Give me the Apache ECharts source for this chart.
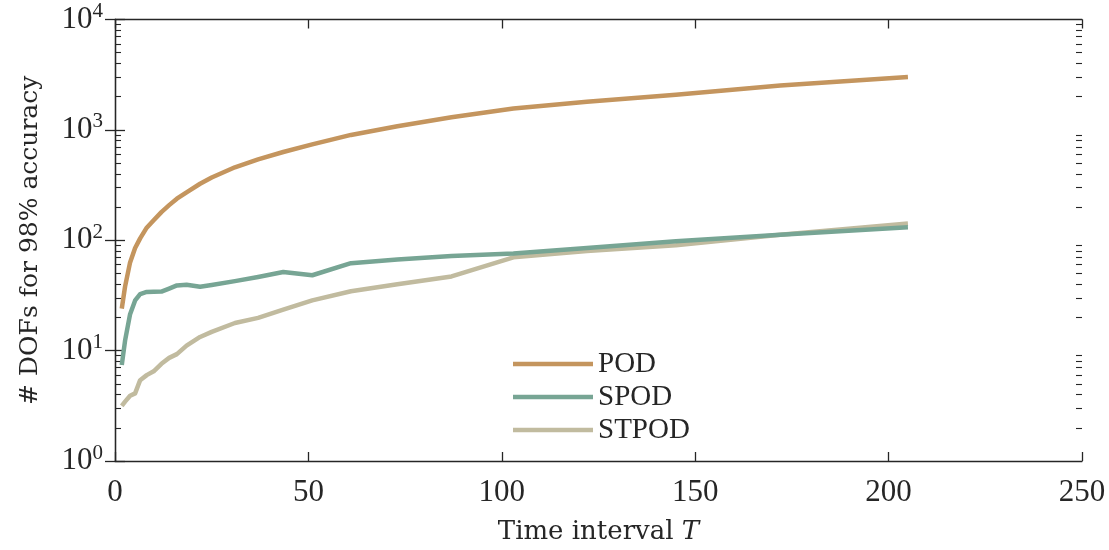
<!DOCTYPE html>
<html>
<head>
<meta charset="utf-8">
<script src="https://cdn.jsdelivr.net/npm/echarts@6/dist/echarts.min.js"></script>
<style>
html,body{margin:0;padding:0;background:#fff;}
#chart{width:1109px;height:550px;}
</style>
</head>
<body>
<div id="chart"></div>
<script>
const T = [1.75, 2.6, 3.9, 5.2, 6.5, 8.2, 10, 12, 14, 16, 18.5, 22, 25, 31, 37, 43.5, 51, 61, 73, 87, 103, 122, 145, 172, 205];
const POD = [24, 38, 63, 85, 104, 130, 152, 180, 208, 238, 272, 325, 370, 458, 540, 630, 740, 900, 1080, 1300, 1560, 1800, 2080, 2520, 3020];
const SPOD = [7.4, 12.3, 21.4, 28.5, 32.5, 34, 34.2, 34.3, 36.5, 39, 39.6, 37.9, 39.3, 42.6, 46.5, 51.6, 48.2, 62, 67, 72, 76, 85, 98, 112, 131];
const STPOD = [3.16, 3.45, 3.9, 4.1, 5.4, 6.0, 6.5, 7.6, 8.6, 9.3, 11.1, 13.3, 14.8, 17.8, 19.8, 23.5, 28.5, 34.5, 40, 47, 70, 80, 90, 112, 142];
const seriesNames = ['POD', 'SPOD', 'STPOD'];
const colors = ['#C4955E', '#77A594', '#C1BB9F'];
const xTicks = [0, 50, 100, 150, 200, 250];
const yMajor = [1, 10, 100, 1000, 10000];
const yMinor = [2,3,4,5,6,7,8,9,20,30,40,50,60,70,80,90,200,300,400,500,600,700,800,900,2000,3000,4000,5000,6000,7000,8000,9000];

const FONT = 'Liberation Serif';
const NFONT = 'DejaVu Serif';
const INK = '#262626';

function pairs(ys){ return T.map((t,i)=>[t, ys[i]]); }

const chart = echarts.init(document.getElementById('chart'), null, {renderer:'canvas'});
const grid = {left:115, right:27, top:19.5, bottom:85, containLabel:false};

const baseX = {type:'value', min:0, max:250, interval:50, gridIndex:0,
  axisLine:{show:true, onZero:false, lineStyle:{color:INK, width:1.3}},
  axisTick:{show:true, inside:true, length:9, lineStyle:{color:INK, width:1.3}},
  splitLine:{show:false}};

const baseYLog = {type:'log', logBase:10, min:1, max:10000, gridIndex:0, offset:0,
  splitLine:{show:false}};

const option = {
  backgroundColor:'#fff',
  animation:false,
  grid: grid,
  legend: {
    data: seriesNames,
    orient:'vertical',
    left:508, top:344,
    icon:'rect', itemWidth:80, itemHeight:4.5, itemGap:3,
    textStyle:{fontFamily:FONT, fontSize:29, color:INK, lineHeight:30, padding:[0,0,0,0]}
  },
  xAxis: [
    Object.assign({}, baseX, {position:'bottom',
      name:'Time interval {i|T}', nameLocation:'middle', nameGap:58,
      nameTextStyle:{fontFamily:NFONT, fontSize:26, color:INK,
        rich:{i:{fontFamily:NFONT, fontSize:26, fontStyle:'italic', color:INK}}},
      axisLabel:{show:true, margin:16, fontFamily:FONT, fontSize:31, color:INK}}),
    Object.assign({}, baseX, {position:'top', axisLabel:{show:false}})
  ],
  yAxis: [
    Object.assign({}, baseYLog, {position:'left',
      name:'# DOFs for 98% accuracy', nameLocation:'middle', nameGap:72,
      nameTextStyle:{fontFamily:NFONT, fontSize:25, color:INK},
      axisLine:{show:true, lineStyle:{color:INK, width:1.3}},
      axisTick:{show:true, inside:true, length:10, lineStyle:{color:INK, width:1.3}},
      axisLabel:{show:true, margin:12, fontFamily:FONT, fontSize:31, color:INK,
        formatter:function(v){ const e = Math.round(Math.log10(v)); return '{b|10}{s|' + e + '}'; },
        rich:{b:{fontFamily:FONT, fontSize:31, color:INK},
              s:{fontFamily:FONT, fontSize:21, color:INK, verticalAlign:'top', padding:[0,0,16,0]}}}}),
    Object.assign({}, baseYLog, {position:'right',
      axisLine:{show:true, lineStyle:{color:INK, width:1.3}},
      axisTick:{show:true, inside:true, length:10, lineStyle:{color:INK, width:1.3}},
      axisLabel:{show:false}}),
    Object.assign({}, baseYLog, {position:'left',
      axisLine:{show:false},
      axisTick:{show:true, inside:true, length:6, customValues:yMinor, lineStyle:{color:INK, width:1.1}},
      axisLabel:{show:false}}),
    Object.assign({}, baseYLog, {position:'right',
      axisLine:{show:false},
      axisTick:{show:true, inside:true, length:6, customValues:yMinor, lineStyle:{color:INK, width:1.1}},
      axisLabel:{show:false}})
  ],
  series: [POD, SPOD, STPOD].map((d,i)=>({
    name: seriesNames[i], type:'line', xAxisIndex:0, yAxisIndex:0,
    data: pairs(d), showSymbol:false, symbol:'none', smooth:false,
    lineStyle:{color:colors[i], width:4.5, cap:'butt', join:'round'},
    itemStyle:{color:colors[i]}, z: 3 + (i===1?1:0)
  }))
};
chart.setOption(option);
</script>
</body>
</html>
